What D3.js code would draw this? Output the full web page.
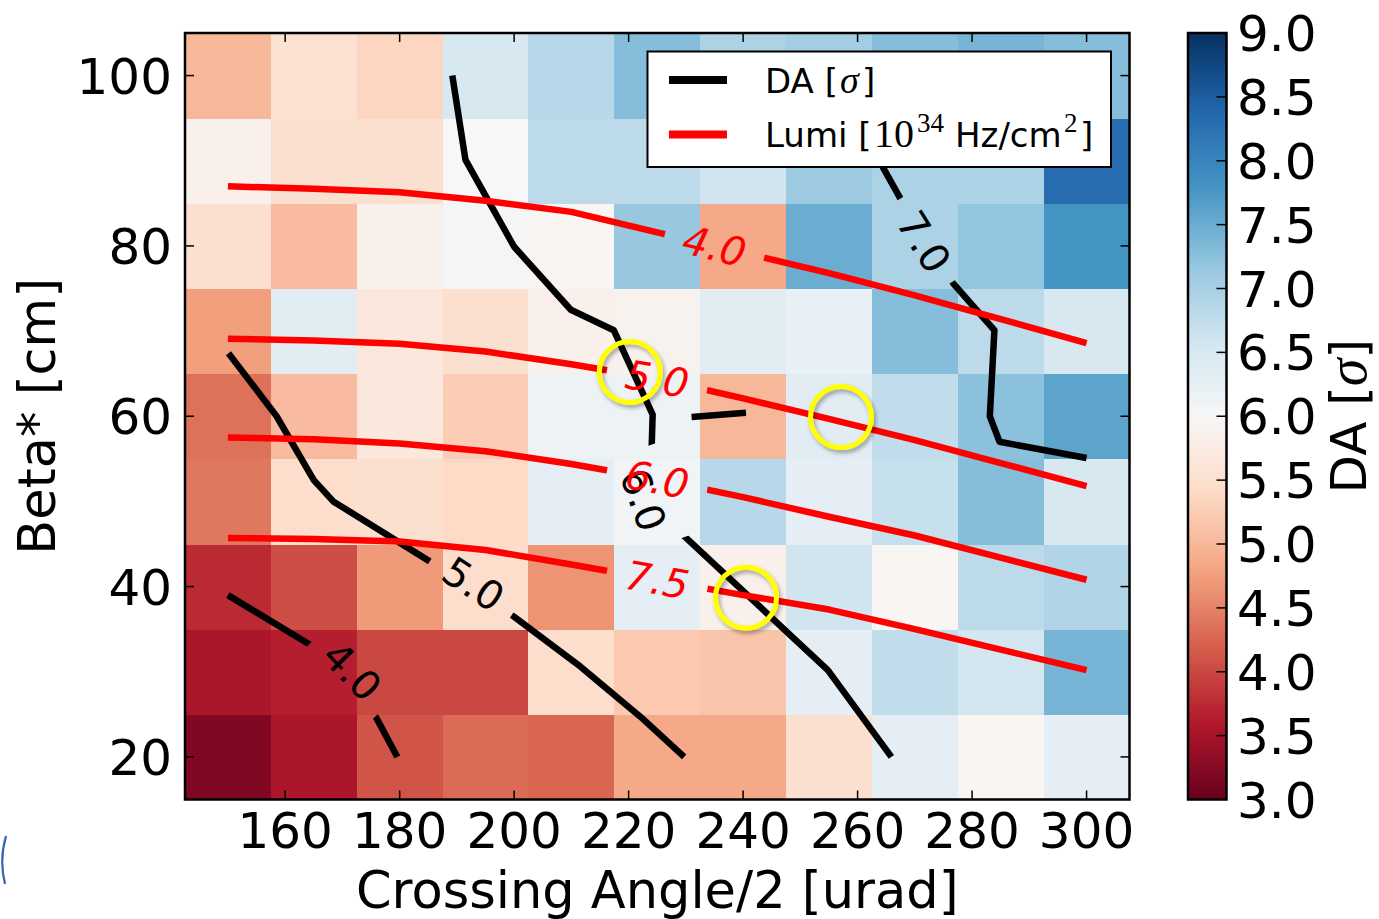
<!DOCTYPE html>
<html>
<head>
<meta charset="utf-8">
<script src="https://cdn.jsdelivr.net/npm/d3@7"></script>
<style>
  body { margin: 0; background: #fff; }
  svg { display: block; }
  text { font-family: "DejaVu Sans", sans-serif; }
</style>
</head>
<body>
<svg id="chart" width="1379" height="919"></svg>
<script>
// ---- grid axes ----
const crossingAngle = [150, 165, 180, 195, 210, 225, 240, 255, 270, 285, 300];
const betaStar = [20, 30, 40, 50, 60, 70, 80, 90, 100];

// ---- dynamic aperture [sigma], one row per beta* (cm), columns follow crossingAngle ----
const daBeta20  = [3.20, 3.55, 4.10, 4.30, 4.25, 4.85, 4.85, 5.50, 6.30, 5.95, 6.30];
const daBeta30  = [3.55, 3.65, 4.00, 4.00, 5.45, 5.20, 5.15, 6.30, 6.75, 6.55, 7.40];
const daBeta40  = [3.75, 4.05, 4.70, 5.45, 4.65, 6.30, 5.85, 6.60, 5.95, 6.80, 6.90];
const daBeta50  = [4.40, 5.45, 5.50, 5.40, 6.30, 6.10, 6.85, 6.30, 6.70, 7.30, 6.50];
const daBeta60  = [4.35, 5.05, 5.65, 5.25, 6.15, 6.15, 5.00, 6.35, 6.75, 7.25, 7.60];
const daBeta70  = [4.75, 6.35, 5.65, 5.50, 5.85, 5.90, 6.35, 6.25, 7.30, 6.80, 6.50];
const daBeta80  = [5.50, 5.05, 5.85, 6.05, 5.95, 7.15, 4.85, 7.50, 6.95, 7.20, 7.80];
const daBeta90  = [5.85, 5.50, 5.50, 6.00, 6.80, 6.80, 6.60, 7.10, 6.95, 6.95, 8.30];
const daBeta100 = [5.00, 5.55, 5.35, 6.50, 6.85, 7.30, 6.95, 7.05, 7.30, 7.40, 7.30];
const daGrid = [daBeta20, daBeta30, daBeta40, daBeta50, daBeta60, daBeta70, daBeta80, daBeta90, daBeta100];

// ---- DA iso-lines [crossing angle, beta*] ----
const daContour4 = [[150.0, 39.0], [165.0, 32.9], [172.0, 28.0], [176.0, 24.5], [179.6, 20.0]];
const daContour5 = [[150.1, 67.4], [158.5, 60.0], [165.0, 52.5], [168.4, 50.0], [185.4, 42.9],
                    [199.9, 36.5], [211.6, 30.6], [222.1, 24.7], [229.7, 20.0]];
const daContour6 = [[189.2, 100.0], [191.5, 90.1], [200.0, 79.9], [209.9, 72.5], [217.4, 70.1],
                    [224.2, 60.2], [224.0, 55.8], [229.1, 46.3], [254.8, 30.2], [265.9, 20.0]];
const daContour6b = [[231.0, 59.9], [240.5, 60.4]];
const daContour7 = [[256.0, 100.0], [264.7, 88.9], [267.6, 85.4], [276.7, 75.6], [283.9, 70.1],
                    [283.1, 60.0], [284.8, 57.0], [300.0, 55.1]];
const daContours = [daContour4, daContour5, daContour6, daContour6b, daContour7];
const daLabelLevels = [4.0, 5.0, 6.0, 7.0];
const daLabelPoints = [[171.7, 30.1], [192.9, 40.3], [222.6, 50.2], [271.6, 80.5]];
const daLabelLines = [daContour4, daContour5, daContour6, daContour7];

// ---- luminosity iso-lines: beta* at each crossing angle ----
const lumiLevels = [4.0, 5.0, 6.0, 7.5];
const lumi40 = [87.0, 86.7, 86.3, 85.3, 84.0, 81.6, 79.2, 76.8, 74.2, 71.4, 68.6];
const lumi50 = [69.1, 68.9, 68.5, 67.6, 66.1, 64.4, 62.1, 59.7, 57.2, 54.5, 51.8];
const lumi60 = [57.5, 57.3, 56.8, 55.9, 54.4, 52.6, 50.5, 48.2, 46.0, 43.4, 40.8];
const lumi75 = [45.7, 45.6, 45.3, 44.3, 42.6, 40.8, 39.0, 37.3, 35.0, 32.6, 30.2];
const lumiLines = [lumi40, lumi50, lumi60, lumi75];
const lumiLabelAngle = [235, 225, 225, 225];

// ---- highlighted working points ----
const highlighted = [[220.2, 65.2], [257.1, 59.9], [240.5, 38.7]];

// ---- ticks ----
const xTicks = [160, 180, 200, 220, 240, 260, 280, 300];
const yTicks = [20, 40, 60, 80, 100];
const cbarTicks = [3.0, 3.5, 4.0, 4.5, 5.0, 5.5, 6.0, 6.5, 7.0, 7.5, 8.0, 8.5, 9.0];

// RdBu colour map, linear between the ColorBrewer anchors
const rdbu = ["#67001f", "#b2182b", "#d6604d", "#f4a582", "#fddbc7", "#f7f7f7",
              "#d1e5f0", "#92c5de", "#4393c3", "#2166ac", "#053061"];
const daMin = 3, daMax = 9;
const color = d3.scaleLinear()
  .domain(rdbu.map((_, i) => daMin + i * (daMax - daMin) / (rdbu.length - 1)))
  .range(rdbu).interpolate(d3.interpolateRgb).clamp(true);

const plot = { left: 185, right: 1129.5, top: 33, bottom: 799.5 };
const xs = d3.scaleLinear().domain([142.5, 307.5]).range([plot.left, plot.right]);
const ys = d3.scaleLinear().domain([15, 105]).range([plot.bottom, plot.top]);

const svg = d3.select("#chart");
const defs = svg.append("defs");

defs.append("filter").attr("id", "ringShadow")
  .attr("x", "-30%").attr("y", "-30%").attr("width", "160%").attr("height", "160%")
  .append("feDropShadow").attr("dx", 2).attr("dy", 3).attr("stdDeviation", 2)
  .attr("flood-color", "#000").attr("flood-opacity", 0.35);

// ---- heatmap cells ----
const cells = [];
daGrid.forEach((row, j) => row.forEach((v, i) => cells.push({ x: crossingAngle[i], y: betaStar[j], v })));
svg.append("g").attr("shape-rendering", "crispEdges")
  .selectAll("rect").data(cells).join("rect")
  .attr("x", d => xs(d.x - 7.5))
  .attr("y", d => ys(d.y + 5))
  .attr("width", d => xs(d.x + 7.5) - xs(d.x - 7.5) + 0.5)
  .attr("height", d => ys(d.y - 5) - ys(d.y + 5) + 0.5)
  .attr("fill", d => color(d.v));

// geometry helpers in pixel space
const toPx = p => [xs(p[0]), ys(p[1])];
function nearestOnLine(points, target) {
  const pts = points.map(toPx);
  let best = null;
  for (let k = 0; k < pts.length - 1; k++) {
    const [ax, ay] = pts[k], [bx, by] = pts[k + 1];
    const dx = bx - ax, dy = by - ay;
    let t = ((target[0] - ax) * dx + (target[1] - ay) * dy) / (dx * dx + dy * dy);
    t = Math.max(0, Math.min(1, t));
    const px = ax + t * dx, py = ay + t * dy;
    const dist = Math.hypot(target[0] - px, target[1] - py);
    if (!best || dist < best.dist) {
      let ang = Math.atan2(dy, dx) * 180 / Math.PI;
      if (ang > 90) ang -= 180;
      if (ang <= -90) ang += 180;
      best = { x: px, y: py, angle: ang, dist };
    }
  }
  return best;
}

function gapMask(id, gaps) {
  const m = defs.append("mask").attr("id", id).attr("maskUnits", "userSpaceOnUse")
    .attr("x", 0).attr("y", 0).attr("width", 1379).attr("height", 919);
  m.append("rect").attr("width", 1379).attr("height", 919).attr("fill", "#fff");
  gaps.forEach(g => m.append("rect")
    .attr("x", -g.w / 2).attr("y", -20).attr("width", g.w).attr("height", 40)
    .attr("transform", `translate(${g.x},${g.y}) rotate(${g.angle})`)
    .attr("fill", "#000"));
}

const line = d3.line().x(d => xs(d[0])).y(d => ys(d[1]));
const fmt = d3.format(".1f");

// ---- DA iso-lines with inline labels ----
const daLabelInfo = daLabelPoints.map((p, k) => {
  const c = toPx(p);
  const n = nearestOnLine(daLabelLines[k], c);
  return { cx: c[0], cy: c[1], gx: n.x, gy: n.y, angle: n.angle, text: fmt(daLabelLevels[k]) };
});
gapMask("daGaps", daLabelInfo.map(d => ({ x: d.gx, y: d.gy, angle: d.angle, w: 98 })));

svg.append("g").attr("mask", "url(#daGaps)")
  .selectAll("path").data(daContours).join("path")
  .attr("d", line).attr("fill", "none").attr("stroke", "#000")
  .attr("stroke-width", 6.5).attr("stroke-linejoin", "round").attr("stroke-linecap", "butt");

svg.append("g").selectAll("text").data(daLabelInfo).join("text")
  .attr("transform", d => `translate(${d.cx},${d.cy}) rotate(${d.angle})`)
  .attr("text-anchor", "middle").attr("dy", "0.36em")
  .attr("font-size", 40).attr("fill", "#000")
  .text(d => d.text);

// ---- luminosity iso-lines with inline labels ----
const lumiPts = lumiLines.map(vals => crossingAngle.map((x, i) => [x, vals[i]]));
const lumiLabelInfo = lumiPts.map((pts, k) => {
  const yAt = d3.scaleLinear().domain(crossingAngle).range(lumiLines[k])(lumiLabelAngle[k]);
  const c = toPx([lumiLabelAngle[k], yAt]);
  const n = nearestOnLine(pts, c);
  return { cx: c[0], cy: c[1], angle: n.angle, text: fmt(lumiLevels[k]) };
});
gapMask("lumiGaps", lumiLabelInfo.map(d => ({ x: d.cx, y: d.cy, angle: d.angle, w: 102 })));

svg.append("g").attr("mask", "url(#lumiGaps)")
  .selectAll("path").data(lumiPts).join("path")
  .attr("d", line).attr("fill", "none").attr("stroke", "#ff0000")
  .attr("stroke-width", 6.5).attr("stroke-linejoin", "round").attr("stroke-linecap", "butt");

svg.append("g").selectAll("text").data(lumiLabelInfo).join("text")
  .attr("transform", d => `translate(${d.cx},${d.cy}) rotate(${d.angle})`)
  .attr("text-anchor", "middle").attr("dy", "0.36em")
  .attr("font-size", 40).attr("font-style", "italic").attr("fill", "#ff0000")
  .text(d => d.text);

// ---- highlighted points ----
svg.append("g").attr("filter", "url(#ringShadow)")
  .selectAll("circle").data(highlighted).join("circle")
  .attr("cx", d => xs(d[0])).attr("cy", d => ys(d[1])).attr("r", 30.5)
  .attr("fill", "none").attr("stroke", "#ffff00").attr("stroke-width", 5);

// ---- ticks (inward, all four sides) ----
const tickLen = 9;
const tk = svg.append("g").attr("stroke", "#000").attr("stroke-width", 1.5);
xTicks.forEach(t => {
  tk.append("line").attr("x1", xs(t)).attr("x2", xs(t)).attr("y1", plot.bottom).attr("y2", plot.bottom - tickLen);
  tk.append("line").attr("x1", xs(t)).attr("x2", xs(t)).attr("y1", plot.top).attr("y2", plot.top + tickLen);
});
yTicks.forEach(t => {
  tk.append("line").attr("y1", ys(t)).attr("y2", ys(t)).attr("x1", plot.left).attr("x2", plot.left + tickLen);
  tk.append("line").attr("y1", ys(t)).attr("y2", ys(t)).attr("x1", plot.right).attr("x2", plot.right - tickLen);
});

svg.append("g").selectAll("text").data(xTicks).join("text")
  .attr("x", d => xs(d)).attr("y", 848).attr("text-anchor", "middle")
  .attr("font-size", 50).text(d => d);
svg.append("g").selectAll("text").data(yTicks).join("text")
  .attr("x", 172).attr("y", d => ys(d) + 18).attr("text-anchor", "end")
  .attr("font-size", 50).text(d => d);

// frame
svg.append("rect").attr("x", plot.left).attr("y", plot.top)
  .attr("width", plot.right - plot.left).attr("height", plot.bottom - plot.top)
  .attr("fill", "none").attr("stroke", "#000").attr("stroke-width", 2.5);

// axis titles
svg.append("text").attr("x", (plot.left + plot.right) / 2).attr("y", 908)
  .attr("text-anchor", "middle").attr("font-size", 51).text("Crossing Angle/2 [urad]");
svg.append("text").attr("transform", `translate(55,${(plot.top + plot.bottom) / 2}) rotate(-90)`)
  .attr("text-anchor", "middle").attr("font-size", 51).text("Beta* [cm]");

// ---- legend ----
const lg = svg.append("g");
lg.append("rect").attr("x", 647.5).attr("y", 51.5).attr("width", 463.5).attr("height", 115.5)
  .attr("fill", "#fff").attr("stroke", "#000").attr("stroke-width", 2);
lg.append("line").attr("x1", 669).attr("x2", 727).attr("y1", 80).attr("y2", 80)
  .attr("stroke", "#000").attr("stroke-width", 8);
lg.append("line").attr("x1", 669).attr("x2", 727).attr("y1", 134.5).attr("y2", 134.5)
  .attr("stroke", "#ff0000").attr("stroke-width", 8);
const t1 = lg.append("text").attr("x", 765).attr("y", 93).attr("font-size", 34);
t1.append("tspan").text("DA [");
t1.append("tspan").attr("x", 840).attr("font-family", "Liberation Serif").attr("font-style", "italic").attr("font-size", 38).text("σ");
t1.append("tspan").attr("x", 862).text("]");
const t2 = lg.append("text").attr("x", 765).attr("y", 147).attr("font-size", 34);
t2.append("tspan").text("Lumi [");
t2.append("tspan").attr("x", 874).attr("font-family", "Liberation Serif").attr("font-size", 40).text("10");
t2.append("tspan").attr("x", 917).attr("dy", -15).attr("font-family", "Liberation Serif").attr("font-size", 27).text("34");
t2.append("tspan").attr("x", 955).attr("dy", 15).text("Hz/cm");
t2.append("tspan").attr("x", 1064).attr("dy", -15).attr("font-family", "Liberation Serif").attr("font-size", 27).text("2");
t2.append("tspan").attr("x", 1080).attr("dy", 15).text("]");

// ---- colour bar ----
const cb = { x: 1188, w: 38.5, top: 33, bottom: 799.5 };
const cbY = d3.scaleLinear().domain([daMin, daMax]).range([cb.bottom, cb.top]);
const grad = defs.append("linearGradient").attr("id", "cbarGrad")
  .attr("x1", 0).attr("y1", 1).attr("x2", 0).attr("y2", 0);
d3.range(0, 1.0001, 0.02).forEach(f => grad.append("stop")
  .attr("offset", f).attr("stop-color", color(daMin + f * (daMax - daMin))));
svg.append("rect").attr("x", cb.x).attr("y", cb.top).attr("width", cb.w).attr("height", cb.bottom - cb.top)
  .attr("fill", "url(#cbarGrad)");
svg.append("g").selectAll("line").data(cbarTicks.slice(1, -1)).join("line")
  .attr("x1", cb.x + cb.w).attr("x2", cb.x + cb.w - 10)
  .attr("y1", d => cbY(d)).attr("y2", d => cbY(d))
  .attr("stroke", "#000").attr("stroke-width", 1.5);
svg.append("rect").attr("x", cb.x).attr("y", cb.top).attr("width", cb.w).attr("height", cb.bottom - cb.top)
  .attr("fill", "none").attr("stroke", "#000").attr("stroke-width", 2.5);
svg.append("g").selectAll("text").data(cbarTicks).join("text")
  .attr("x", 1237).attr("y", d => cbY(d) + 18).attr("font-size", 50).text(d => fmt(d));
const cbl = svg.append("text")
  .attr("transform", `translate(1366,${(cb.top + cb.bottom) / 2}) rotate(-90)`)
  .attr("text-anchor", "middle").attr("font-size", 50);
cbl.append("tspan").text("DA [");
cbl.append("tspan").attr("font-family", "Liberation Serif").attr("font-style", "italic").attr("font-size", 56).text("σ");
cbl.append("tspan").text("]");

// small stray arc in the lower-left margin
svg.append("path").attr("d", "M6,836 Q-1,860 5,884")
  .attr("fill", "none").attr("stroke", "#3563b5").attr("stroke-width", 2.2);
</script>
</body>
</html>
